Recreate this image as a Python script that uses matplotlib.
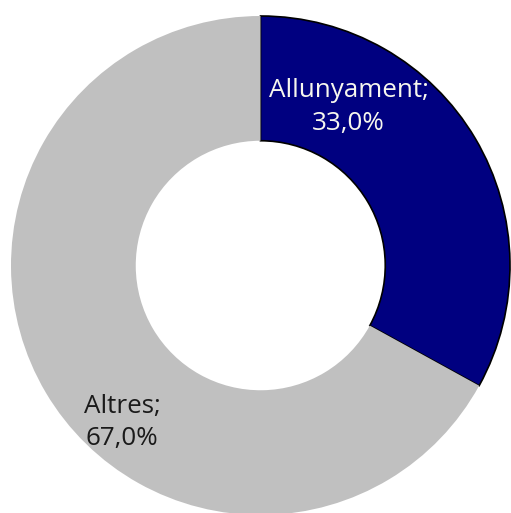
import matplotlib
matplotlib.use("Agg")
import matplotlib.pyplot as plt

categories = ["Allunyament", "Altres"]
values = [33.0, 67.0]
colors = ["#000080", "#C0C0C0"]
text_colors = ["#F7F7EE", "#1A1A1A"]

fig = plt.figure(figsize=(5.11, 5.13), dpi=100)
ax = fig.add_axes([11/511, -2/513, 499/511, 499/513])

wedges, _ = ax.pie(values, colors=colors, startangle=90, counterclock=False,
                   radius=1, wedgeprops=dict(width=0.5))
wedges[0].set_edgecolor("black")
wedges[0].set_linewidth(1.2)
wedges[1].set_edgecolor("none")
for w in wedges:
    w.set_clip_on(False)
ax.set_xlim(-1, 1)
ax.set_ylim(-1, 1)
ax.set_aspect("equal")
ax.axis("off")

label_pos = [(0.353, 0.635), (-0.555, -0.63)]
for cat, v, (x, y), tc in zip(categories, values, label_pos, text_colors):
    txt = f"{cat};\n{v:.1f}%".replace(".", ",")
    ax.text(x, y, txt, ha="center", va="center", color=tc, fontsize=18.7,
            family="Open Sans", linespacing=1.38)

fig.savefig("out.png", dpi=100)
